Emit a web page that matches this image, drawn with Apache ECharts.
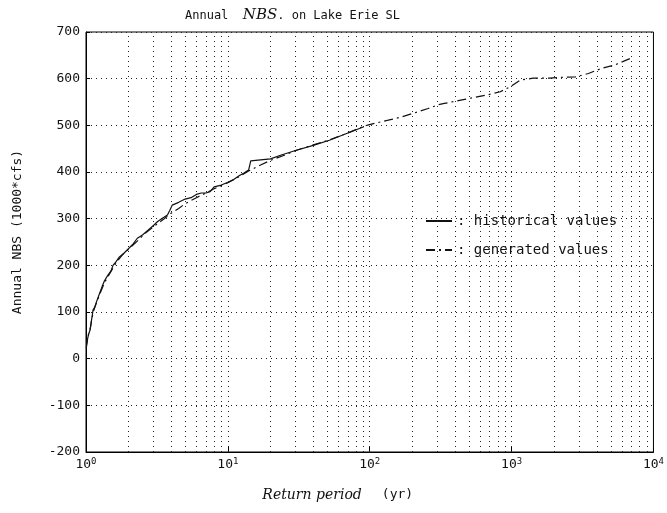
<!DOCTYPE html>
<html><head><meta charset="utf-8">
<script src="https://cdn.jsdelivr.net/npm/echarts@6/dist/echarts.min.js"></script>
<style>html,body{margin:0;padding:0;background:#fff}#c{width:667px;height:513px}</style>
</head><body><div id="c"></div>
<script>
// ---- data ----
const yMin = -200, yMax = 700, yStep = 100;
const xMin = 1, xMax = 10000;
const minorGridX = [2,3,4,5,6,7,8,9,10,20,30,40,50,60,70,80,90,100,200,300,400,500,600,700,800,900,1000,2000,3000,4000,5000,6000,7000,8000,9000];
const histT = [1.01,1.03,1.05,1.07,1.09,1.11,1.12,1.15,1.18,1.22,1.25,1.3,1.35,1.42,1.5,1.55,1.62,1.72,1.85,2.0,2.15,2.3,2.5,2.75,3.0,3.2,3.5,3.75,3.9,4.05,4.5,5.0,5.5,6.0,6.5,7.0,7.5,8.0,9.0,10,11,12,13,14,14.5,17,20,23.5,30,40,52,68,91];
const histV = [30,45,55,62,80,95,104,110,120,132,141,155,167,178,188,200,207,218,226,236,246,258,265,276,286,294,302,308,318,329,335,342,345,352,355,355,358,368,372,378,384,392,398,404,424,426,428,436,446,457,468,482,497];
const genT = [1.005,1.02,1.04,1.07,1.1,1.13,1.18,1.25,1.35,1.5,1.65,1.8,2.0,2.3,2.6,3.0,3.5,4.0,4.5,5.0,6.0,7.0,8.0,10,12,14,17,20,25,30,40,52,68,89,98,122,135,168,219,258,303,336,438,571,672,832,982,1150,1418,1850,2300,2820,3480,4300,5300,6950];
const genV = [22,38,52,64,85,102,118,138,163,187,208,222,235,252,268,283,298,312,322,332,345,355,364,377,390,402,415,425,436,446,458,469,482,497,501,508,511,518,529,536,544,547,554,561,565,572,583,597,601,601,603,604,611,622,629,644];
const seriesNames = ['historical values', 'generated values'];

const MONO = '"DejaVu Sans Mono", "Liberation Mono", monospace';
const HAND = '"DejaVu Serif", serif';
const INK = '#111';

const chart = echarts.init(document.getElementById('c'), null, {renderer: 'canvas'});
const pairs = (t, v) => t.map((x, i) => [x, v[i]]);

chart.setOption({
  animation: false,
  backgroundColor: '#fff',
  title: {
    left: 180, top: 3,
    text: '{a|Annual  }{h|NBS}{a|. on Lake Erie SL}',
    textStyle: {
      fontWeight: 'normal',
      rich: {
        a: {fontFamily: MONO, fontSize: 12, fontWeight: 'normal', color: INK},
        h: {fontFamily: HAND, fontStyle: 'italic', fontWeight: 'normal', fontSize: 15, color: INK}
      }
    }
  },
  legend: {
    orient: 'vertical',
    left: 420, top: 209,
    itemWidth: 26, itemHeight: 12, itemGap: 15,
    data: seriesNames,
    formatter: n => ': ' + n,
    itemStyle: {opacity: 0},
    textStyle: {fontFamily: MONO, fontSize: 14, color: INK},
    selectedMode: false
  },
  grid: {
    left: 86, top: 32, right: 8, bottom: 61,
    show: true, borderColor: '#000', borderWidth: 1
  },
  xAxis: {
    type: 'log', logBase: 10, min: xMin, max: xMax,
    axisLine: {show: true, onZero: false, lineStyle: {color: '#000', width: 1}},
    axisTick: {show: true, inside: true, length: 5, lineStyle: {color: '#000'}},
    splitLine: {show: false},
    axisLabel: {
      margin: 5,
      formatter: v => '10{s|' + Math.round(Math.log10(v)) + '}',
      fontFamily: MONO, fontSize: 13, color: INK,
      rich: {s: {fontFamily: MONO, fontSize: 9, color: INK, verticalAlign: 'top', padding: [0, 0, 6, 0]}}
    },
    name: '{h|Return period}      {a|(yr)}',
    nameLocation: 'middle', nameGap: 36,
    nameTextStyle: {
      padding: [0, 64, 0, 0],
      rich: {
        h: {fontFamily: HAND, fontStyle: 'italic', fontSize: 14, color: INK},
        a: {fontFamily: MONO, fontSize: 13, color: INK}
      }
    }
  },
  yAxis: {
    type: 'value', min: yMin, max: yMax, interval: yStep,
    axisLine: {show: true, lineStyle: {color: '#000', width: 1}},
    axisTick: {show: true, inside: true, length: 4, lineStyle: {color: '#000'}},
    splitLine: {show: true, lineStyle: {color: '#222', width: 1, type: [1, 4]}},
    axisLabel: {margin: 6, fontFamily: MONO, fontSize: 13, color: INK},
    name: 'Annual NBS (1000*cfs)',
    nameLocation: 'middle', nameGap: 62,
    nameTextStyle: {fontFamily: MONO, fontSize: 13, color: INK, padding: [0, 0, 0, 20]}
  },
  series: [
    {
      name: seriesNames[0], type: 'line', showSymbol: false, symbol: 'none',
      data: pairs(histT, histV),
      lineStyle: {color: INK, width: 1.2, type: 'solid'},
      itemStyle: {color: INK},
      z: 3,
      markLine: {
        silent: true, symbol: ['none', 'none'], animation: false,
        label: {show: false},
        lineStyle: {color: '#222', width: 1, type: [1, 4]},
        data: minorGridX.map(v => ({xAxis: v}))
      }
    },
    {
      name: seriesNames[1], type: 'line', showSymbol: false, symbol: 'none',
      data: pairs(genT, genV),
      lineStyle: {color: INK, width: 1.2, type: [9, 4, 2, 4]},
      itemStyle: {color: INK},
      z: 2
    }
  ]
});
</script>
</body></html>
